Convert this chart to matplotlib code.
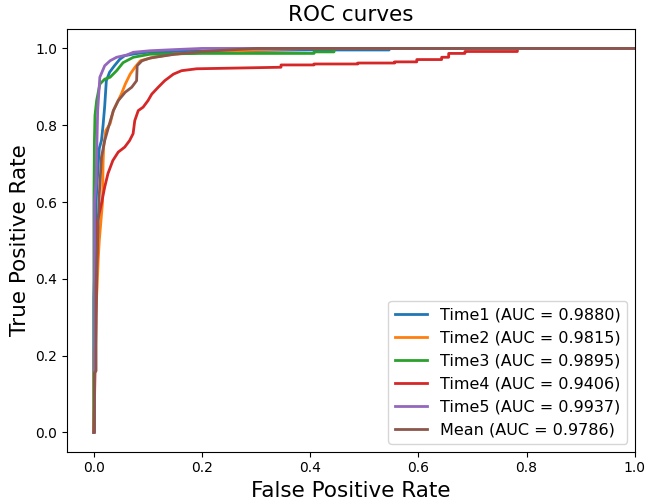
import numpy as np
import matplotlib
matplotlib.use('Agg')
import matplotlib.pyplot as plt

# ROC points
labels = ['Time1', 'Time2', 'Time3', 'Time4', 'Time5', 'Mean']
aucs = [0.9880, 0.9815, 0.9895, 0.9406, 0.9937, 0.9786]

fpr_time1 = [0, 0, 0.002, 0.003, 0.004, 0.006, 0.008, 0.010, 0.014, 0.017, 0.020, 0.023,
             0.029, 0.038, 0.048, 0.057, 0.075, 0.10, 0.15, 0.25, 0.40, 0.546, 0.546, 1.0]
tpr_time1 = [0, 0.35, 0.45, 0.55, 0.60, 0.65, 0.70, 0.74, 0.76, 0.80, 0.85, 0.916,
             0.938, 0.955, 0.972, 0.981, 0.986, 0.990, 0.992, 0.994, 0.996, 0.996, 1.0, 1.0]

fpr_time2 = [0, 0, 0.003, 0.006, 0.008, 0.010, 0.013, 0.016, 0.017, 0.018, 0.022, 0.030,
             0.036, 0.042, 0.051, 0.058, 0.067, 0.076, 0.086, 0.110, 0.147, 0.20, 0.30, 0.40, 1.0]
tpr_time2 = [0, 0.20, 0.30, 0.38, 0.45, 0.50, 0.55, 0.60, 0.70, 0.743, 0.786, 0.804,
             0.838, 0.856, 0.882, 0.907, 0.933, 0.951, 0.968, 0.977, 0.985, 0.990, 0.996, 1.0, 1.0]

fpr_time3 = [0, 0, 0.001, 0.002, 0.005, 0.011, 0.020, 0.030, 0.042, 0.054, 0.073, 0.104,
             0.20, 0.407, 0.407, 0.444, 0.444, 1.0]
tpr_time3 = [0, 0.60, 0.76, 0.825, 0.864, 0.907, 0.920, 0.925, 0.942, 0.963, 0.977, 0.985,
             0.987, 0.987, 0.991, 0.991, 1.0, 1.0]

fpr_time4 = [0, 0.002, 0.004, 0.005, 0.007, 0.010, 0.014, 0.020, 0.026, 0.035, 0.045, 0.057,
             0.066, 0.0725, 0.0756, 0.082, 0.091, 0.100, 0.107, 0.119, 0.131, 0.147, 0.162,
             0.19, 0.346, 0.346, 0.407, 0.407, 0.488, 0.488, 0.556, 0.556, 0.597, 0.597,
             0.643, 0.643, 0.656, 0.656, 0.686, 0.686, 0.783, 0.783, 1.0]
tpr_time4 = [0, 0.15, 0.285, 0.40, 0.552, 0.571, 0.596, 0.639, 0.674, 0.708, 0.730, 0.743,
             0.760, 0.778, 0.812, 0.838, 0.847, 0.864, 0.881, 0.899, 0.916, 0.933, 0.942,
             0.947, 0.951, 0.957, 0.957, 0.9595, 0.9595, 0.962, 0.962, 0.965, 0.965, 0.971,
             0.971, 0.977, 0.977, 0.987, 0.987, 0.992, 0.992, 1.0, 1.0]

fpr_time5 = [0, 0.001, 0.001, 0.004, 0.005, 0.007, 0.011, 0.020, 0.030, 0.042, 0.061, 0.073,
             0.104, 0.15, 0.20, 1.0]
tpr_time5 = [0, 0.0, 0.60, 0.65, 0.717, 0.838, 0.925, 0.955, 0.968, 0.977, 0.983, 0.990,
             0.994, 0.997, 1.0, 1.0]

fpr_mean = [0, 0.001, 0.001, 0.004, 0.004, 0.008, 0.010, 0.014, 0.020, 0.027, 0.036, 0.045,
            0.058, 0.070, 0.079, 0.080, 0.089, 0.104, 0.15, 0.20, 0.30, 1.0]
tpr_mean = [0, 0, 0.155, 0.16, 0.38, 0.55, 0.62, 0.717, 0.760, 0.795, 0.838, 0.864,
            0.886, 0.899, 0.916, 0.955, 0.968, 0.975, 0.985, 0.992, 1.0, 1.0]

curves = [(fpr_time1, tpr_time1), (fpr_time2, tpr_time2), (fpr_time3, tpr_time3),
          (fpr_time4, tpr_time4), (fpr_time5, tpr_time5), (fpr_mean, tpr_mean)]


def main():
    fig, ax = plt.subplots(figsize=(6.49, 5.04), dpi=100)
    fig.subplots_adjust(left=0.103, right=0.978, top=0.942, bottom=0.104)

    for (fpr, tpr), name, auc in zip(curves, labels, aucs):
        ax.plot(np.array(fpr), np.array(tpr), lw=2, label=f'{name} (AUC = {auc:.4f})')

    ax.set_xlim(-0.05, 1.0)
    ax.set_ylim(-0.05, 1.05)
    ax.set_xlabel('False Positive Rate', fontsize=15.5)
    ax.set_ylabel('True Positive Rate', fontsize=15.5)
    ax.set_title('ROC curves', fontsize=15.5)
    ax.legend(loc='lower right', fontsize=11.5)

    fig.savefig('out.png', dpi=100)


if __name__ == '__main__':
    main()
